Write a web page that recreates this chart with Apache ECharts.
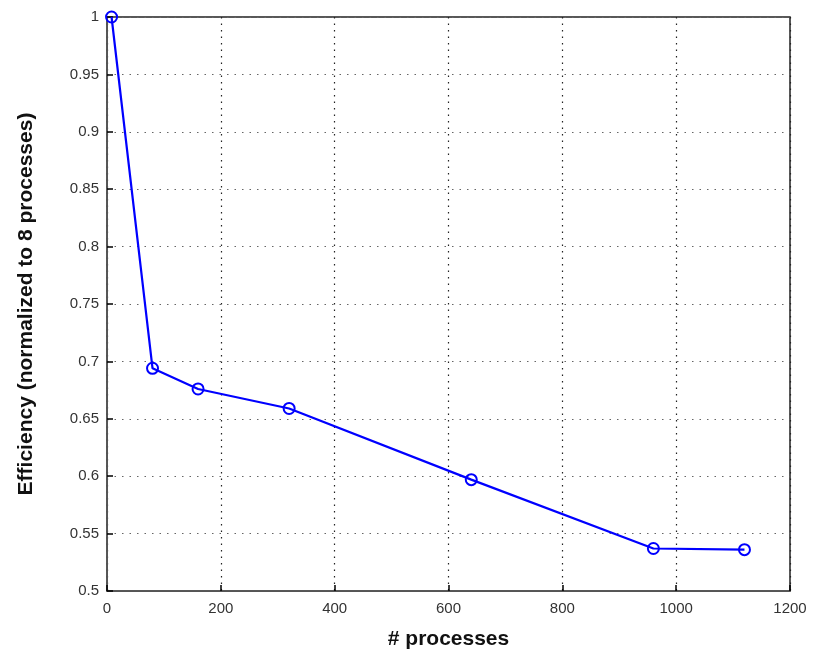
<!DOCTYPE html>
<html><head><meta charset="utf-8">
<script src="https://cdn.jsdelivr.net/npm/echarts@6/dist/echarts.min.js"></script>
<style>html,body{margin:0;padding:0;background:#fff}#c{width:818px;height:658px}</style>
</head><body><div id="c"></div>
<script>
const processes = [8, 80, 160, 320, 640, 960, 1120];
const efficiency = [1.0, 0.694, 0.676, 0.659, 0.597, 0.537, 0.536];
const xTitle = '# processes';
const yTitle = 'Efficiency (normalized to 8 processes)';

const chart = echarts.init(document.getElementById('c'));
const font = 'Liberation Sans, Arial, sans-serif';
chart.setOption({
  animation: false,
  backgroundColor: '#fff',
  grid: {left: 107, right: 28, top: 17, bottom: 67, show: true, borderColor: '#222', borderWidth: 1.5, backgroundColor: 'transparent'},
  xAxis: {
    type: 'value', min: 0, max: 1200, interval: 200,
    name: xTitle, nameLocation: 'middle', nameGap: 38,
    nameTextStyle: {fontFamily: font, fontSize: 21, fontWeight: 'bold', color: '#111'},
    axisLine: {show: true, onZero: false, lineStyle: {color: '#555', width: 1}},
    axisTick: {show: true, inside: true, length: 6, lineStyle: {color: '#000', width: 1.5}},
    axisLabel: {fontFamily: font, fontSize: 15, color: '#333', margin: 10, formatter: v => String(v)},
    splitLine: {show: true, lineStyle: {type: [1.5, 5], color: '#222', width: 1.2}}
  },
  yAxis: {
    type: 'value', min: 0.5, max: 1, interval: 0.05,
    name: yTitle, nameLocation: 'middle', nameGap: 70, nameRotate: 90,
    nameTextStyle: {fontFamily: font, fontSize: 21, fontWeight: 'bold', color: '#111'},
    axisLine: {show: true, onZero: false, lineStyle: {color: '#555', width: 1}},
    axisTick: {show: true, inside: true, length: 6, lineStyle: {color: '#000', width: 1.5}},
    axisLabel: {fontFamily: font, fontSize: 15, color: '#333', margin: 8},
    splitLine: {show: true, lineStyle: {type: [1.5, 6], color: '#666', width: 1.2}}
  },
  series: [{
    type: 'line',
    data: processes.map((p, i) => [p, efficiency[i]]),
    symbol: 'circle', symbolSize: 11,
    lineStyle: {color: '#0000ff', width: 2.2},
    itemStyle: {color: 'rgba(255,255,255,0)', borderColor: '#0000ff', borderWidth: 2},
    z: 5
  }]
});
</script></body></html>
